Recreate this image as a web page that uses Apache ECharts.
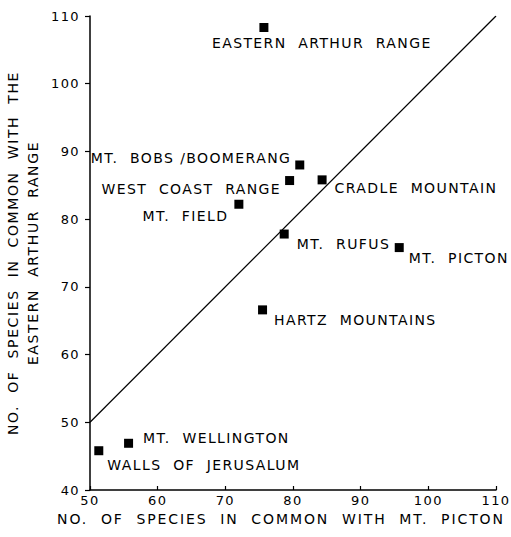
<!DOCTYPE html>
<html>
<head>
<meta charset="utf-8">
<script src="https://cdn.jsdelivr.net/npm/echarts@6/dist/echarts.min.js"></script>
<style>
html,body{margin:0;padding:0;background:#fff}
#c{width:511px;height:537px}
#c text{letter-spacing:1.4px}
#c text[style*="sans-serif"]{letter-spacing:1.9px}
#c text[style*="Verdana"]{letter-spacing:1.6px}
</style>
</head>
<body>
<div id="c"></div>
<script>
// ---- data ----
var siteNames = ['EASTERN  ARTHUR  RANGE','MT.  BOBS /BOOMERANG','WEST  COAST  RANGE','CRADLE  MOUNTAIN','MT.  FIELD','MT.  RUFUS','MT.  PICTON','HARTZ  MOUNTAINS','MT.  WELLINGTON','WALLS  OF  JERUSALUM'];
var speciesWithPicton = [75.7, 81, 79.5, 84.3, 72, 78.7, 95.7, 75.5, 55.7, 51.3];
var speciesWithArthur = [108.3, 88, 85.7, 85.8, 82.2, 77.8, 75.8, 66.6, 46.9, 45.8];
var equalityLineX = [50, 110];
var equalityLineY = [50, 110];
var xTicks = [50, 60, 70, 80, 90, 100, 110];
var yTicks = [40, 50, 60, 70, 80, 90, 100, 110];

// ---- label styling (per site) ----
var labelStyle = [
  {position:'bottom', align:'left', distance:4, offset:[-52,0]},
  {position:'left', distance:4, offset:[0,-7]},
  {position:'left', distance:4, offset:[0,8]},
  {position:'right', distance:8, offset:[0,8]},
  {position:'left', distance:6, offset:[0,12]},
  {position:'right', distance:8, offset:[0,10]},
  {position:'right', distance:5, offset:[0,10]},
  {position:'right', distance:7, offset:[0,10]},
  {position:'right', distance:10, offset:[0,-5]},
  {position:'right', distance:4, offset:[0,14]}
];

var FONT = 'DejaVu Sans';
var X_TITLE_FONT = 'DejaVu Sans, sans-serif';
var Y_TITLE_FONT = 'DejaVu Sans, Verdana';
var points = siteNames.map(function(n, i){
  var ls = labelStyle[i];
  var lab = {show:true, formatter:n, position:ls.position, distance:ls.distance, offset:ls.offset,
             color:'#000', opacity:1, textBorderWidth:0, fontFamily:FONT, fontSize:14};
  if (ls.align) lab.align = ls.align;
  return {name:n, value:[speciesWithPicton[i], speciesWithArthur[i]], label:lab};
});

var chart = echarts.init(document.getElementById('c'), null, {renderer:'svg'});
chart.setOption({
  animation:false,
  backgroundColor:'#fff',
  grid:{left:90, right:15, top:16, bottom:47, containLabel:false, outerBoundsMode:'none'},
  xAxis:{
    type:'value', min:xTicks[0], max:xTicks[xTicks.length-1], interval:10,
    name:'NO.  OF  SPECIES  IN  COMMON  WITH  MT.  PICTON',
    nameLocation:'middle', nameGap:9,
    nameTextStyle:{color:'#000', fontFamily:X_TITLE_FONT, fontSize:14, padding:[0,24,0,0]},
    axisLine:{show:true, onZero:false, lineStyle:{color:'#000', width:1.5}},
    axisTick:{show:true, inside:true, length:4, lineStyle:{color:'#000', width:1.2}},
    axisLabel:{color:'#000', fontFamily:FONT, fontSize:13, margin:4},
    splitLine:{show:false}
  },
  yAxis:{
    type:'value', min:yTicks[0], max:yTicks[yTicks.length-1], interval:10,
    name:'NO.  OF  SPECIES  IN  COMMON  WITH  THE\nEASTERN  ARTHUR  RANGE',
    nameLocation:'middle', nameGap:47, nameRotate:90,
    nameTextStyle:{color:'#000', fontFamily:Y_TITLE_FONT, fontSize:14, lineHeight:20, align:'center'},
    axisLine:{show:true, onZero:false, lineStyle:{color:'#000', width:1.5}},
    axisTick:{show:true, inside:false, length:5, lineStyle:{color:'#000', width:1.2}},
    axisLabel:{color:'#000', fontFamily:FONT, fontSize:13, margin:10},
    splitLine:{show:false}
  },
  series:[
    {
      type:'line', data:equalityLineX.map(function(x,i){return [x, equalityLineY[i]];}),
      showSymbol:false, symbol:'none', lineStyle:{color:'#000', width:1.2}, silent:true, z:1
    },
    {
      type:'scatter', data:points, symbol:'rect', symbolSize:9,
      itemStyle:{color:'#000', opacity:1}, z:2
    }
  ]
});
</script>
</body>
</html>
